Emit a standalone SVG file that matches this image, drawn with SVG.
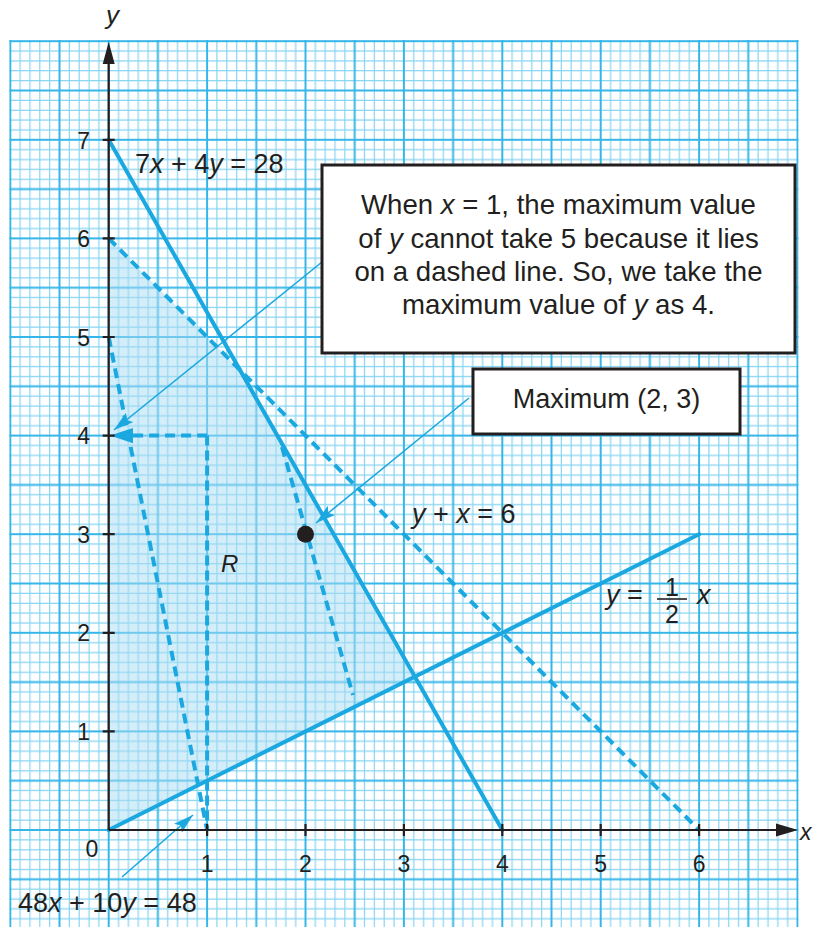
<svg xmlns="http://www.w3.org/2000/svg" width="813" height="927" viewBox="0 0 813 927">
<style>
.fine{stroke:#86d4f2;stroke-width:1.2;fill:none}
.major{stroke:#36b6e8;stroke-width:2;fill:none}
.ln{stroke:#1ba8e0;stroke-width:4;fill:none;stroke-linecap:round}
.dash{stroke:#1ba8e0;stroke-width:4;fill:none;stroke-dasharray:10 6}
.thin{stroke:#1ba8e0;stroke-width:1.6;fill:none}
.axis{stroke:#231f20;stroke-width:2.2;fill:none}
.head{fill:#231f20}
text{font-family:"Liberation Sans",Arial,sans-serif;fill:#231f20}
.tick{font-size:23px}
.eq{font-size:27px}
.box{font-size:27.6px}
.it{font-style:italic}
.frame{fill:#fff;stroke:#231f20;stroke-width:3}
</style>
<defs>
<pattern id="grid" patternUnits="userSpaceOnUse" x="10.3" y="41.2" width="98.4" height="98.6">
<path class="fine" d="M9.84 0V98.6M19.68 0V98.6M29.52 0V98.6M39.36 0V98.6M59.04 0V98.6M68.88 0V98.6M78.72 0V98.6M88.56 0V98.6M0 9.86H98.4M0 19.72H98.4M0 29.58H98.4M0 39.44H98.4M0 59.16H98.4M0 69.02H98.4M0 78.88H98.4M0 88.74H98.4"/>
<path class="major" d="M0 0V98.6M49.2 0V98.6M98.4 0V98.6M0 0H98.4M0 49.3H98.4M0 98.6H98.4"/>
</pattern>
<marker id="ah" viewBox="0 0 20 12" refX="20" refY="6" markerWidth="20" markerHeight="12" markerUnits="userSpaceOnUse" orient="auto">
<path d="M0,0 L20,6 L0,12 L4,6 z" fill="#1ba8e0"/>
</marker>
</defs>
<rect width="813" height="927" fill="#fff"/>
<rect x="9.2" y="40" width="789.4" height="887" fill="url(#grid)"/>

<g id="region">
<polygon points="108.7,830 108.7,238.4 239.9,369.8 414.8,676.6" fill="#a8dcf3" fill-opacity="0.5"/>
</g>

<g id="connectors">
<line class="ln" x1="108.7" y1="139.8" x2="502.3" y2="830"/>
<line class="ln" x1="108.7" y1="830" x2="699.1" y2="534.2"/>
<line class="dash" x1="108.7" y1="238.4" x2="699.1" y2="830"/>
<line class="dash" x1="108.7" y1="337" x2="207.1" y2="830"/>
<line class="dash" x1="207.1" y1="435.6" x2="207.1" y2="830" style="stroke-dasharray:10 5"/>
<line class="dash" x1="207.1" y1="435.6" x2="128" y2="435.6"/>
<polygon points="110,435.6 133,428 133,443.2" fill="#1ba8e0"/>
<line class="dash" x1="282" y1="447" x2="353" y2="695"/>
<line class="thin" x1="322" y1="262" x2="114" y2="430" marker-end="url(#ah)"/>
<line class="thin" x1="469" y1="398" x2="316" y2="523" marker-end="url(#ah)"/>
<line class="thin" x1="122" y1="877" x2="193" y2="815" marker-end="url(#ah)"/>
</g>

<g id="axes">
<line class="axis" x1="108.7" y1="830" x2="780" y2="830"/>
<polygon class="head" points="798,830 776,823.5 776,836.5"/>
<line class="axis" x1="108.7" y1="830" x2="108.7" y2="60"/>
<polygon class="head" points="108.7,42 102.7,64 114.7,64"/>
<path class="axis" d="M207.1 824V836M305.5 824V836M403.9 824V836M502.3 824V836M600.7 824V836M699.1 824V836M102.7 731.4H114.7M102.7 632.8H114.7M102.7 534.2H114.7M102.7 435.6H114.7M102.7 337H114.7M102.7 238.4H114.7M102.7 139.8H114.7"/>
<text class="it" x="106" y="24" style="font-size:26px">y</text>
<text class="it" x="800" y="840" style="font-size:23px">x</text>
<text class="tick" x="92" y="857" text-anchor="middle">0</text>
<g class="tick" text-anchor="middle">
<text x="207.1" y="872">1</text><text x="305.5" y="872">2</text><text x="403.9" y="872">3</text><text x="502.3" y="872">4</text><text x="600.7" y="872">5</text><text x="699.1" y="872">6</text>
</g>
<g class="tick" text-anchor="end">
<text x="90" y="740">1</text><text x="90" y="641">2</text><text x="90" y="543">3</text><text x="90" y="444">4</text><text x="90" y="345.5">5</text><text x="90" y="247">6</text><text x="90" y="148.5">7</text>
</g>
</g>

<g id="point-max">
<circle cx="305.5" cy="534.2" r="8.5" fill="#231f20"/>
</g>

<g id="labels">
<text class="eq" x="135" y="173">7<tspan class="it">x</tspan> + 4<tspan class="it">y</tspan> = 28</text>
<text class="eq" x="412" y="523"><tspan class="it">y</tspan> + <tspan class="it">x</tspan> = 6</text>
<text class="eq" x="606" y="604"><tspan class="it">y</tspan> =</text>
<text x="672" y="596" text-anchor="middle" style="font-size:25px">1</text>
<line x1="657" y1="599" x2="687" y2="599" stroke="#231f20" stroke-width="1.6"/>
<text x="672" y="623" text-anchor="middle" style="font-size:25px">2</text>
<text class="eq it" x="697" y="604">x</text>
<text class="eq" x="18" y="912">48<tspan class="it">x</tspan> + 10<tspan class="it">y</tspan> = 48</text>
<text class="it" x="221" y="572" style="font-size:24px">R</text>
</g>

<g id="note-box">
<rect class="frame" x="322" y="165" width="473" height="188"/>
<g class="box" text-anchor="middle">
<text x="558.5" y="214">When <tspan class="it">x</tspan> = 1, the maximum value</text>
<text x="558.5" y="248">of <tspan class="it">y</tspan> cannot take 5 because it lies</text>
<text x="558.5" y="281">on a dashed line. So, we take the</text>
<text x="558.5" y="314">maximum value of <tspan class="it">y</tspan> as 4.</text>
</g>
</g>

<g id="max-box">
<rect class="frame" x="473" y="369" width="267" height="65"/>
<text class="box" x="606.5" y="408" text-anchor="middle" style="font-size:27px">Maximum (2, 3)</text>
</g>
</svg>
